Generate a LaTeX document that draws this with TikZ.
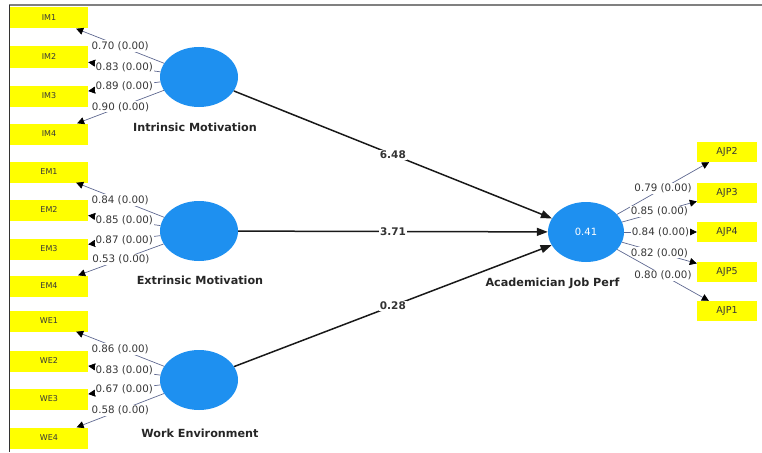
\documentclass[tikz,border=0pt]{standalone}
\usepackage{fontspec}
\setmainfont{DejaVu Sans}
\usetikzlibrary{shapes.geometric,arrows.meta}
\definecolor{lvblue}{RGB}{30,144,240}
\definecolor{indyellow}{RGB}{255,255,0}
\definecolor{loadline}{RGB}{95,105,145}
\definecolor{labgray}{RGB}{55,55,55}
\tikzset{
  ind/.style={fill=indyellow, minimum width=78pt, minimum height=21pt, inner sep=0pt, text=labgray, font=\fontsize{8}{8}\selectfont},
  indr/.style={ind, minimum width=60pt, minimum height=20pt, font=\fontsize{9.5}{9.5}\selectfont},
  lv/.style={ellipse, fill=lvblue, minimum width=78pt, minimum height=60pt, inner sep=0pt},
  lvname/.style={text=black!85, font=\bfseries\fontsize{11.2}{11.2}\selectfont},
  load/.style={loadline, line width=.7pt, -{Triangle[length=7pt,width=7pt,color=black]}},
  lab/.style={fill=white, inner sep=1pt, text=labgray, font=\fontsize{10.3}{10.3}\selectfont},
  path/.style={black!90, line width=1.5pt, -{Triangle[length=11pt,width=8pt]}},
  plab/.style={fill=white, inner sep=1pt, text=black!80, font=\bfseries\fontsize{10.5}{10.5}\selectfont}
}
\begin{document}
\begin{tikzpicture}[x=1pt, y=-1pt]
\useasboundingbox (0,0) rectangle (762,452);
% frame
\draw[gray, line width=1.5pt] (9,5)--(762,5);
\draw[black!80, line width=.8pt] (9.5,5)--(9.5,452);

% indicators
\foreach \n/\y in {IM1/18,IM2/57,IM3/96,IM4/134,EM1/172,EM2/210,EM3/249,EM4/286,WE1/321,WE2/361,WE3/399,WE4/438}
  \node[ind] (\n) at (49,\y) {\n};
\foreach \n/\y in {AJP2/152,AJP3/193,AJP4/232,AJP5/272,AJP1/311}
  \node[indr] (\n) at (727,\y) {\n};

% latent variables
\node[lv] (im) at (199,77) {};
\node[lv] (em) at (199,231) {};
\node[lv] (we) at (199,380) {};
\node[lv, minimum width=76pt] (ajp) at (586,232) {\textcolor{white}{\fontsize{10}{10}\selectfont 0.41}};

\node[lvname] (imname) at (195,127) {Intrinsic Motivation};
\node[lvname] (emname) at (200,280) {Extrinsic Motivation};
\node[lvname] (wename) at (200,433) {Work Environment};
\node[lvname, anchor=west] (ajpname) at (482,283) {Academician Job Perf};

% outer loadings
\foreach \t/\v in {IM1/0.70,IM2/0.83,IM3/0.89,IM4/0.90}
  \draw[load] (im) -- node[lab]{\v\ (0.00)} (\t);
\foreach \t/\v in {EM1/0.84,EM2/0.85,EM3/0.87,EM4/0.53}
  \draw[load] (em) -- node[lab]{\v\ (0.00)} (\t);
\foreach \t/\v in {WE1/0.86,WE2/0.83,WE3/0.67,WE4/0.58}
  \draw[load] (we) -- node[lab]{\v\ (0.00)} (\t);
\foreach \t/\v in {AJP2/0.79,AJP3/0.85,AJP4/0.84,AJP5/0.82,AJP1/0.80}
  \draw[load] (ajp) -- node[lab]{\v\ (0.00)} (\t);

% inner model
\draw[path] (im) -- node[plab]{6.48} (ajp);
\draw[path] (em) -- node[plab]{3.71} (ajp);
\draw[path] (we) -- node[plab]{0.28} (ajp);
\end{tikzpicture}
\end{document}
